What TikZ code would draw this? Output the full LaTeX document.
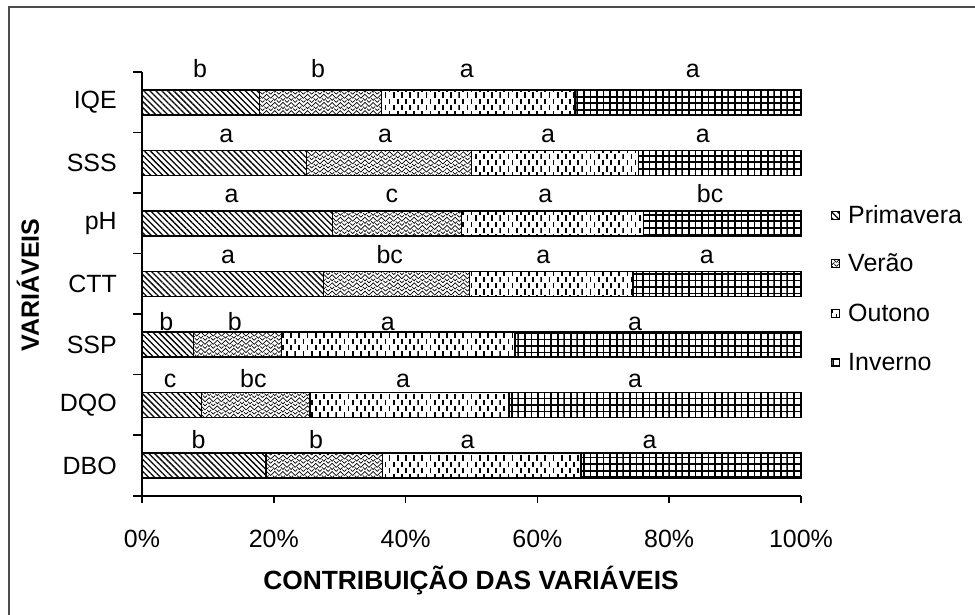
\documentclass[tikz,border=0pt]{standalone}
\usepackage{fontspec}
\usetikzlibrary{patterns,patterns.meta}
\newfontfamily\chartfont{Liberation Sans}

% fill patterns of the four seasons
\pgfdeclarepatternformonly{trellis}{\pgfqpoint{-0.5pt}{-0.5pt}}{\pgfqpoint{7.5pt}{7.5pt}}{\pgfqpoint{7pt}{7pt}}{
  \pgfsetlinewidth{0.6pt}
  \pgfpathmoveto{\pgfqpoint{0pt}{0pt}}\pgfpathlineto{\pgfqpoint{3.5pt}{3.5pt}}\pgfpathlineto{\pgfqpoint{7pt}{0pt}}
  \pgfpathmoveto{\pgfqpoint{0pt}{3.5pt}}\pgfpathlineto{\pgfqpoint{1.75pt}{5.25pt}}
  \pgfpathmoveto{\pgfqpoint{7pt}{3.5pt}}\pgfpathlineto{\pgfqpoint{5.25pt}{5.25pt}}
  \pgfpathmoveto{\pgfqpoint{1.75pt}{7pt}}\pgfpathlineto{\pgfqpoint{3.5pt}{5.25pt}}\pgfpathlineto{\pgfqpoint{5.25pt}{7pt}}
  \pgfusepath{stroke}}
\pgfdeclarepatternformonly{dashcols}{\pgfqpoint{-0.8pt}{0pt}}{\pgfqpoint{7pt}{10.5pt}}{\pgfqpoint{7pt}{10.5pt}}{
  \pgfsetlinewidth{1.5pt}
  \pgfpathmoveto{\pgfqpoint{0pt}{0.5pt}}\pgfpathlineto{\pgfqpoint{0pt}{5pt}}
  \pgfpathmoveto{\pgfqpoint{3.5pt}{5.75pt}}\pgfpathlineto{\pgfqpoint{3.5pt}{10.25pt}}
  \pgfusepath{stroke}}
\pgfdeclarepatternformonly{smallgrid}{\pgfqpoint{-0.8pt}{-0.8pt}}{\pgfqpoint{5.6pt}{5.6pt}}{\pgfqpoint{5.6pt}{5.6pt}}{
  \pgfsetlinewidth{1.5pt}
  \pgfpathmoveto{\pgfqpoint{-0.8pt}{0pt}}\pgfpathlineto{\pgfqpoint{5.6pt}{0pt}}
  \pgfpathmoveto{\pgfqpoint{0pt}{-0.8pt}}\pgfpathlineto{\pgfqpoint{0pt}{5.6pt}}
  \pgfusepath{stroke}}

\tikzset{
  primfill/.style={draw=black, line width=1.2pt, pattern={Lines[angle=-45,distance=3.6pt,line width=1.1pt]}},
  veraofill/.style={draw=black, line width=1.2pt, pattern=trellis},
  outonofill/.style={draw=black, line width=1.2pt, pattern=dashcols},
  invernofill/.style={draw=black, line width=1.2pt, pattern=smallgrid},
  txt/.style={font=\chartfont\fontsize{21.3}{24}\selectfont, inner sep=0pt},
  lbl/.style={txt, anchor=base},
  axisline/.style={line width=1.3pt},
}

\begin{document}
\begin{tikzpicture}[x=0.03cm, y=-0.03cm]
\useasboundingbox (0,0) rectangle (975,615);
\draw[line width=1.7pt, draw=black!70] (9,630) -- (9,7) -- (990,7);

% bars, x in percent
\begin{scope}[shift={(142,0)}, x=0.1977cm]
% IQE
\draw[primfill] (0,90) rectangle (17.8,115);
\draw[veraofill] (17.8,90) rectangle (36.3,115);
\draw[outonofill] (36.3,90) rectangle (65.7,115);
\draw[invernofill] (65.7,90) rectangle (100,115);
\node[lbl] (iqe1) at (8.8,77) {b};
\node[lbl] (iqe2) at (26.7,77) {b};
\node[lbl] (iqe3) at (49.3,77) {a};
\node[lbl] (iqe4) at (83.6,77) {a};
% SSS
\draw[primfill] (0,150.5) rectangle (25,175.5);
\draw[veraofill] (25,150.5) rectangle (50,175.5);
\draw[outonofill] (50,150.5) rectangle (75.3,175.5);
\draw[invernofill] (75.3,150.5) rectangle (100,175.5);
\node[lbl] (sss1) at (12.8,142) {a};
\node[lbl] (sss2) at (36.9,142) {a};
\node[lbl] (sss3) at (61.6,142) {a};
\node[lbl] (sss4) at (85.1,142) {a};
% pH
\draw[primfill] (0,211) rectangle (28.9,236);
\draw[veraofill] (28.9,211) rectangle (48.5,236);
\draw[outonofill] (48.5,211) rectangle (76.1,236);
\draw[invernofill] (76.1,211) rectangle (100,236);
\node[lbl] (ph1) at (13.6,202) {a};
\node[lbl] (ph2) at (37.9,202) {c};
\node[lbl] (ph3) at (61.2,202) {a};
\node[lbl] (ph4) at (86.2,202) {bc};
% CTT
\draw[primfill] (0,271.5) rectangle (27.5,296.5);
\draw[veraofill] (27.5,271.5) rectangle (49.7,296.5);
\draw[outonofill] (49.7,271.5) rectangle (74.5,296.5);
\draw[invernofill] (74.5,271.5) rectangle (100,296.5);
\node[lbl] (ctt1) at (13.05,263) {a};
\node[lbl] (ctt2) at (37.6,263) {bc};
\node[lbl] (ctt3) at (60.9,263) {a};
\node[lbl] (ctt4) at (85.7,263) {a};
% SSP
\draw[primfill] (0,332) rectangle (7.8,357);
\draw[veraofill] (7.8,332) rectangle (21.2,357);
\draw[outonofill] (21.2,332) rectangle (56.6,357);
\draw[invernofill] (56.6,332) rectangle (100,357);
\node[lbl] (ssp1) at (3.7,330) {b};
\node[lbl] (ssp2) at (14.1,330) {b};
\node[lbl] (ssp3) at (37.3,330) {a};
\node[lbl] (ssp4) at (74.8,330) {a};
% DQO
\draw[primfill] (0,392.5) rectangle (9,417.5);
\draw[veraofill] (9,392.5) rectangle (25.5,417.5);
\draw[outonofill] (25.5,392.5) rectangle (55.7,417.5);
\draw[invernofill] (55.7,392.5) rectangle (100,417.5);
\node[lbl] (dqo1) at (4.25,387) {c};
\node[lbl] (dqo2) at (16.9,387) {bc};
\node[lbl] (dqo3) at (39.6,387) {a};
\node[lbl] (dqo4) at (74.8,387) {a};
% DBO
\draw[primfill] (0,453) rectangle (18.8,478);
\draw[veraofill] (18.8,453) rectangle (36.5,478);
\draw[outonofill] (36.5,453) rectangle (66.6,478);
\draw[invernofill] (66.6,453) rectangle (100,478);
\node[lbl] (dbo1) at (8.6,448) {b};
\node[lbl] (dbo2) at (26.4,448) {b};
\node[lbl] (dbo3) at (49.4,448) {a};
\node[lbl] (dbo4) at (77,448) {a};
\end{scope}

% axes and ticks
\draw[axisline] (142,72) -- (142,496) -- (801,496);
\draw[axisline] (133,72) -- (142,72) (133,132.5) -- (142,132.5) (133,193) -- (142,193)
  (133,253.5) -- (142,253.5) (133,314) -- (142,314) (133,374.5) -- (142,374.5)
  (133,435) -- (142,435) (133,496) -- (142,496);
\draw[axisline] (142,496) -- (142,503) (273.8,496) -- (273.8,503) (405.6,496) -- (405.6,503)
  (537.4,496) -- (537.4,503) (669.2,496) -- (669.2,503) (801,496) -- (801,503);

\node[txt, anchor=east] (iqe) at (117,102.5) {IQE};
\node[txt, anchor=east] (sss) at (117,163) {SSS};
\node[txt, anchor=east] (ph) at (117,223.5) {pH};
\node[txt, anchor=east] (ctt) at (117,284) {CTT};
\node[txt, anchor=east] (ssp) at (117,344.5) {SSP};
\node[txt, anchor=east] (dqo) at (117,405) {DQO};
\node[txt, anchor=east] (dbo) at (117,465.5) {DBO};

\node[lbl] (t0) at (142,547) {0\%};
\node[lbl] (t20) at (273.8,547) {20\%};
\node[lbl] (t40) at (405.6,547) {40\%};
\node[lbl] (t60) at (537.4,547) {60\%};
\node[lbl] (t80) at (669.2,547) {80\%};
\node[lbl] (t100) at (801,547) {100\%};

\node[lbl, font=\chartfont\bfseries\fontsize{22.5}{24}\selectfont] (xtitle) at (471,589) {CONTRIBUIÇÃO DAS VARIÁVEIS};
\node[txt, font=\chartfont\bfseries\fontsize{21.3}{24}\selectfont, rotate=90] (ytitle) at (28,285) {VARIÁVEIS};

% legend
\draw[primfill, line width=0.8pt] (831,211) rectangle (839,219);
\draw[veraofill, line width=0.8pt] (831,259) rectangle (839,267);
\draw[outonofill, line width=0.8pt] (831,309) rectangle (839,317);
\draw[invernofill, line width=0.8pt] (831,358) rectangle (839,366);
\node[txt, anchor=west] (lgprim) at (848,215) {Primavera};
\node[txt, anchor=west] (lgverao) at (848,263) {Verão};
\node[txt, anchor=west] (lgoutono) at (848,313) {Outono};
\node[txt, anchor=west] (lginverno) at (848,362) {Inverno};
\end{tikzpicture}
\end{document}
